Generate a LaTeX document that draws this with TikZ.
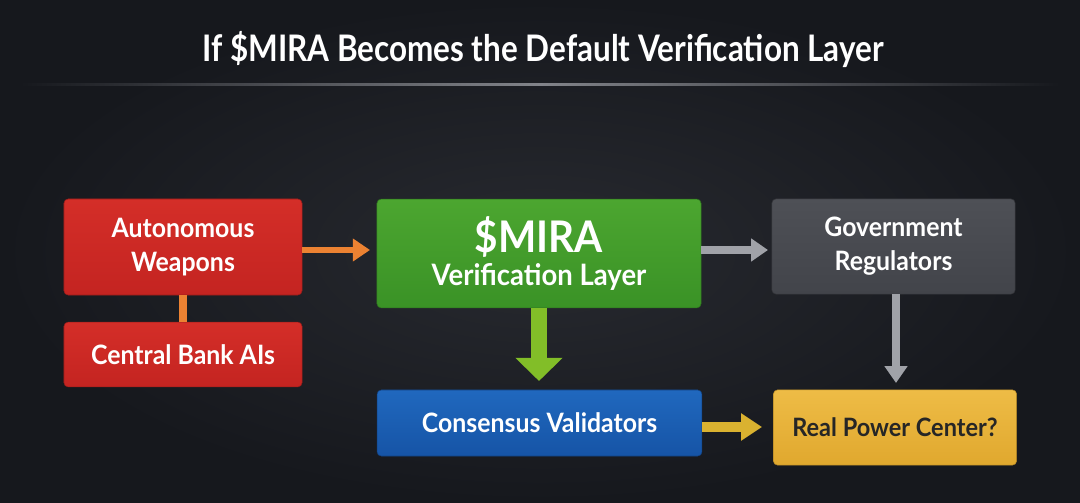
\documentclass[tikz,border=0pt]{standalone}
\usepackage{fontspec}
\setmainfont{Lato}[FakeStretch=0.93]
\newfontfamily\titlefont{Lato}[FakeStretch=0.86]
\usetikzlibrary{arrows.meta,positioning}
\definecolor{cBg}{RGB}{40,42,48}
\definecolor{cBgOut}{RGB}{22,24,29}
\definecolor{cRed}{RGB}{196,36,33}
\definecolor{cRedTop}{RGB}{212,46,40}
\definecolor{cGreen}{RGB}{58,146,38}
\definecolor{cGreenTop}{RGB}{76,166,48}
\definecolor{cGray}{RGB}{66,68,74}
\definecolor{cGrayTop}{RGB}{78,80,86}
\definecolor{cBlue}{RGB}{22,84,166}
\definecolor{cBlueTop}{RGB}{32,104,190}
\definecolor{cGold}{RGB}{224,168,46}
\definecolor{cGoldTop}{RGB}{238,188,70}
\definecolor{cOrangeArr}{RGB}{236,130,50}
\definecolor{cGreenArr}{RGB}{130,190,40}
\definecolor{cGrayArr}{RGB}{160,162,168}
\definecolor{cGoldArr}{RGB}{218,178,48}
\definecolor{cLine}{RGB}{130,132,138}
\tikzset{
  basebox/.style={rectangle,rounded corners=3pt,align=center,
                  font=\bfseries\fontsize{19}{24}\selectfont,text=white},
  redbox/.style={basebox,top color=cRedTop,bottom color=cRed,
                 draw=cRed!80!black,minimum width=5.95cm},
  greenbox/.style={basebox,top color=cGreenTop,bottom color=cGreen,
                   draw=cGreen!80!black,minimum width=8.1cm,minimum height=2.72cm},
  graybox/.style={basebox,top color=cGrayTop,bottom color=cGray,
                  draw=cGray!80!black,minimum width=6.08cm,minimum height=2.38cm},
  bluebox/.style={basebox,top color=cBlueTop,bottom color=cBlue,
                  draw=cBlue!80!black,minimum width=8.12cm,minimum height=1.65cm},
  goldbox/.style={basebox,top color=cGoldTop,bottom color=cGold,
                  draw=cGold!80!black,minimum width=6.08cm,minimum height=1.88cm,
                  text=black!85,font=\bfseries\fontsize{18}{22}\selectfont},
  orarr/.style={-{Triangle[length=0.43cm,width=0.55cm]},line width=0.16cm,color=cOrangeArr},
  orline/.style={line width=0.2cm,color=cOrangeArr},
  grarr/.style={-{Triangle[length=0.42cm,width=0.55cm]},line width=0.19cm,color=cGrayArr},
  gnarr/.style={-{Triangle[length=0.58cm,width=1.15cm]},line width=0.4cm,color=cGreenArr},
  gdarr/.style={-{Triangle[length=0.52cm,width=0.65cm]},line width=0.25cm,color=cGoldArr}
}
\begin{document}
\begin{tikzpicture}[x=0.025cm,y=-0.025cm]

  % background
  \fill[cBgOut] (0,0) rectangle (1080,503);
  \shade[inner color=cBg,outer color=cBgOut] (0,0) rectangle (1080,503);
  \useasboundingbox (0,0) rectangle (1080,503);

  \node[font=\titlefont\bfseries\fontsize{26}{30}\selectfont,text=white] (title) at (543,50)
      {If \$MIRA Becomes the Default Verification Layer};
  \shade[left color=cBgOut,right color=cBgOut,middle color=cLine]
      (20,84) rectangle (1060,86);

  \node[redbox,minimum height=2.4cm] (weap) at (183,247) {Autonomous\\Weapons};
  \node[redbox,minimum height=1.62cm] (bank) at (183,354.5) {Central Bank AIs};

  \node[greenbox] (mira) at (539,253.5)
      {{\fontsize{31}{34}\selectfont \$MIRA}\\{\fontsize{21}{24}\selectfont Verification Layer}};
  \node[graybox] (gov) at (893.5,246.5) {Government\\Regulators};

  \node[bluebox] (cons) at (539.5,423) {Consensus Validators};
  \node[goldbox] (power) at (895,427.5) {Real Power Center?};

  \draw[orline] (weap.south) -- (bank.north);
  \draw[orarr] (weap.east |- 0,250) -- (370,250);
  \draw[grarr] (mira.east |- 0,250) -- (768,250);
  \draw[gnarr] (mira.south) -- (539,381);
  \draw[grarr] (896,294) -- (896,383);
  \draw[gdarr] (cons.east |- 0,427) -- (762,427);

\end{tikzpicture}
\end{document}
